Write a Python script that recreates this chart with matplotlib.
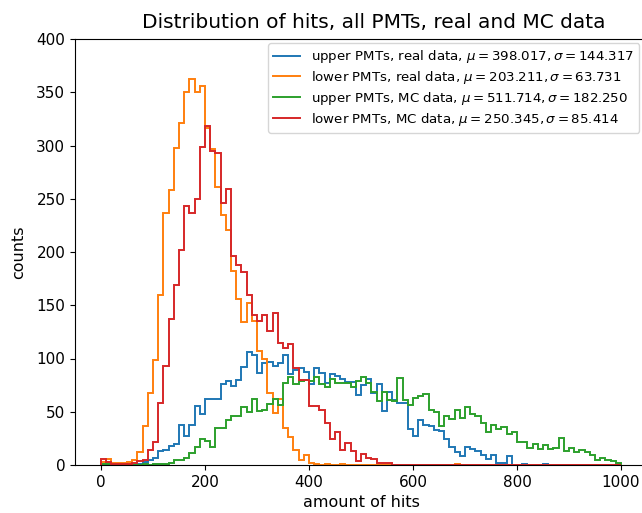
import numpy as np
import matplotlib
matplotlib.use("Agg")
import matplotlib.pyplot as plt
from matplotlib.lines import Line2D

edges = np.arange(0, 1001, 10)

upper_real = [0, 0, 0, 0, 0, 0, 0, 1, 3, 5,
              7, 13, 14, 18, 20, 38, 27, 38, 55, 48,
              62, 62, 62, 76, 79, 74, 80, 92, 106, 103,
              86, 96, 97, 93, 96, 103, 85, 89, 91, 87,
              76, 91, 86, 77, 85, 84, 81, 78, 78, 66,
              75, 81, 68, 76, 51, 69, 61, 58, 58, 34,
              27, 42, 38, 37, 33, 32, 24, 17, 12, 8,
              17, 15, 13, 9, 6, 9, 2, 2, 8, 0,
              0, 1, 0, 0, 0, 1, 0, 0, 0, 0,
              0, 0, 0, 0, 0, 0, 0, 0, 0, 0]

lower_real = [3, 6, 2, 2, 2, 3, 5, 12, 37, 68,
              99, 160, 237, 258, 298, 321, 350, 362, 350, 356,
              316, 297, 261, 235, 221, 182, 156, 134, 152, 135,
              107, 100, 68, 49, 62, 35, 26, 14, 5, 9,
              2, 1, 0, 1, 0, 0, 1, 0, 0, 0,
              0, 0, 0, 0, 0, 0, 0, 0, 0, 0,
              0, 0, 0, 0, 0, 0, 0, 0, 1, 0,
              0, 0, 0, 0, 0, 0, 0, 0, 0, 0,
              0, 0, 0, 0, 0, 0, 0, 0, 0, 0,
              0, 0, 0, 0, 0, 0, 0, 0, 0, 0]

upper_mc = [1, 1, 0, 0, 0, 0, 0, 0, 1, 0,
            1, 1, 1, 2, 5, 5, 7, 11, 17, 24,
            23, 17, 35, 35, 42, 46, 46, 54, 50, 62,
            51, 52, 57, 62, 56, 77, 83, 76, 79, 80,
            79, 83, 76, 73, 81, 77, 77, 77, 73, 79,
            83, 77, 69, 60, 69, 61, 60, 82, 61, 56,
            63, 65, 67, 52, 50, 37, 46, 43, 52, 44,
            54, 48, 46, 39, 31, 38, 34, 36, 29, 31,
            22, 22, 16, 20, 15, 19, 15, 16, 25, 13,
            16, 12, 14, 12, 9, 5, 7, 5, 4, 2]

lower_mc = [6, 3, 1, 1, 1, 1, 2, 4, 5, 14,
            22, 58, 93, 137, 169, 202, 243, 237, 250, 299,
            318, 295, 293, 246, 259, 196, 188, 181, 160, 141,
            135, 141, 126, 143, 115, 110, 114, 91, 80, 80,
            55, 55, 52, 39, 24, 31, 14, 21, 13, 4,
            10, 7, 6, 2, 2, 2, 0, 0, 0, 0,
            0, 0, 0, 0, 0, 0, 0, 0, 0, 0,
            0, 0, 0, 0, 0, 0, 0, 0, 0, 0,
            0, 0, 0, 0, 0, 0, 0, 0, 0, 0,
            0, 0, 0, 0, 0, 0, 0, 0, 0, 0]

labels = [r'upper PMTs, real data, $\mu = 398.017, \sigma = 144.317$',
          r'lower PMTs, real data, $\mu = 203.211, \sigma = 63.731$',
          r'upper PMTs, MC data, $\mu = 511.714, \sigma = 182.250$',
          r'lower PMTs, MC data, $\mu = 250.345, \sigma = 85.414$']
colors = ['#1f77b4', '#ff7f0e', '#2ca02c', '#d62728']

fig = plt.figure(figsize=(6.42, 5.13), dpi=100)
ax = fig.add_axes([75/642, 48/513, 572/642, 426/513])

centers = edges[:-1] + 5
handles = []
for counts, lab, col in zip([upper_real, lower_real, upper_mc, lower_mc], labels, colors):
    ax.hist(centers, bins=edges, weights=counts, histtype='step',
            linewidth=1.4, color=col)
    handles.append(Line2D([], [], color=col, linewidth=1.4, label=lab))

ax.set_ylim(0, 400)
ax.set_xlim(-50, 1050)
ax.set_yticks(np.arange(0, 401, 50))
ax.tick_params(labelsize=11)
ax.set_title('Distribution of hits, all PMTs, real and MC data', fontsize=14.5,
             x=(374 - 75) / 572, pad=8)
ax.set_xlabel('amount of hits', fontsize=11.5)
ax.set_ylabel('counts', fontsize=11.5, labelpad=7)
ax.legend(handles=handles, loc='upper right', fontsize=9.6, labelspacing=0.28,
          borderaxespad=0.3, bbox_to_anchor=(0.9935, 1.0))

fig.savefig('out.png', dpi=100)
